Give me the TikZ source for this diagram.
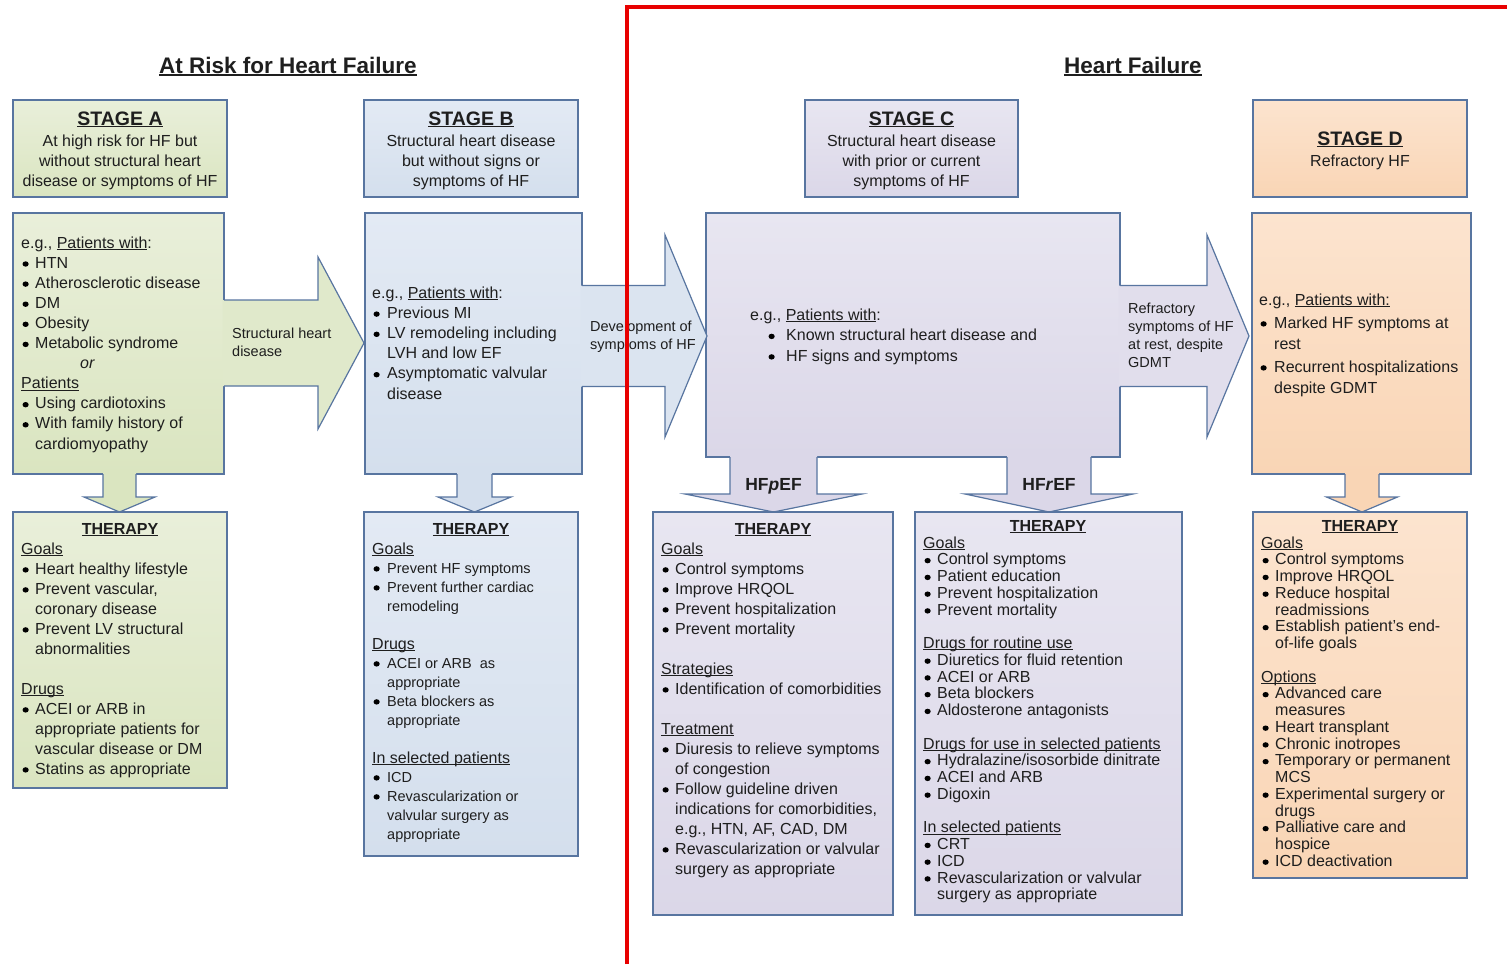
\documentclass[tikz,border=0pt]{standalone}
\usepackage{fontspec}
\setmainfont{Liberation Sans}
\usetikzlibrary{calc}

\definecolor{bord}{RGB}{88,117,160}
\definecolor{ink}{RGB}{30,30,30}
\definecolor{gT}{RGB}{233,239,218}
\definecolor{gB}{RGB}{218,229,192}
\definecolor{gM}{RGB}{224,233,203}
\definecolor{bT}{RGB}{227,234,244}
\definecolor{bB}{RGB}{212,223,237}
\definecolor{bM}{RGB}{219,228,240}
\definecolor{lT}{RGB}{232,230,241}
\definecolor{lB}{RGB}{219,215,232}
\definecolor{lM}{RGB}{225,222,236}
\definecolor{pT}{RGB}{252,228,207}
\definecolor{pB}{RGB}{249,213,181}
\definecolor{pM}{RGB}{250,220,192}
\definecolor{divider}{RGB}{232,0,0}

% underline drawn just below the baseline
\newsavebox\ulbox
\newcommand\uline[1]{\sbox\ulbox{#1}\rlap{\rule[-0.12em]{\wd\ulbox}{0.07em}}\usebox\ulbox}
% round bullet dot drawn as a small filled ellipse
\newsavebox\dotbox
\sbox\dotbox{\begin{pgfpicture}\pgfpathellipse{\pgfpointorigin}{\pgfpoint{3.1pt}{0pt}}{\pgfpoint{0pt}{2.7pt}}\pgfusepath{fill}\end{pgfpicture}}
% bullet and hanging indent for list lines
\newcommand\bul[1][14pt]{\makebox[#1][l]{\hspace{1.3pt}\raisebox{1.4pt}{\usebox\dotbox}}}
\newcommand\ind[1][14pt]{\hspace*{#1}}
\newcommand\sm{\fontsize{14.5}{19}\selectfont}
% text blocks whose reference point is the first baseline
\newcommand\lst[1]{\begin{tabular}[t]{@{}l@{}}#1\end{tabular}}
\newcommand\ctr[1]{\begin{tabular}[t]{@{}c@{}}#1\end{tabular}}

% block arrow pointing right: fill, x0, x1 (head base), x2 (tip), y centre, shaft half, head half
\newcommand\rarr[7]{%
  \fill[#1] (#2-1.5,#5-#6) -- (#3,#5-#6) -- (#3,#5-#7) -- (#4,#5) -- (#3,#5+#7) -- (#3,#5+#6) -- (#2-1.5,#5+#6) -- cycle;
  \draw[arrline] (#2,#5-#6) -- (#3,#5-#6) -- (#3,#5-#7) -- (#4,#5) -- (#3,#5+#7) -- (#3,#5+#6) -- (#2,#5+#6);}
% block arrow pointing down: fill, y0, y1 (head base), y2 (tip), x centre, shaft half, head half
\newcommand\darr[7]{%
  \fill[#1] (#5-#6,#2-1.5) -- (#5-#6,#3) -- (#5-#7,#3) -- (#5,#4) -- (#5+#7,#3) -- (#5+#6,#3) -- (#5+#6,#2-1.5) -- cycle;
  \draw[arrline] (#5-#6,#2) -- (#5-#6,#3) -- (#5-#7,#3) -- (#5,#4) -- (#5+#7,#3) -- (#5+#6,#3) -- (#5+#6,#2);}

\begin{document}
\begin{tikzpicture}[x=1pt,y=-1pt,
  box/.style={draw=bord, line width=1.2pt, anchor=north west, inner sep=0pt, outer sep=0pt},
  fillA/.style={top color=gT, bottom color=gB},
  fillB/.style={top color=bT, bottom color=bB},
  fillC/.style={top color=lT, bottom color=lB},
  fillD/.style={top color=pT, bottom color=pB},
  arrline/.style={draw=bord, line width=1.2pt, line join=miter},
  ttl/.style={anchor=base, inner sep=0pt, text=ink, font=\fontsize{22.5}{26}\selectfont\bfseries},
  stg/.style={anchor=base, inner sep=0pt, text=ink, font=\fontsize{19.5}{22}\selectfont\bfseries},
  thr/.style={anchor=base, inner sep=0pt, text=ink, font=\fontsize{16}{20}\selectfont\bfseries},
  desc/.style={anchor=base, inner sep=0pt, text=ink, font=\fontsize{16}{20}\selectfont},
  txt/.style={anchor=base west, inner sep=0pt, text=ink, font=\fontsize{16}{20}\selectfont},
  lbl/.style={anchor=base west, inner sep=0pt, text=ink, font=\fontsize{14.5}{18}\selectfont},
  hfl/.style={anchor=base, inner sep=0pt, text=ink, font=\fontsize{17.5}{20}\selectfont\bfseries}]

\fill[white] (0,0) rectangle (1507,964);
\useasboundingbox (0,0) rectangle (1507,964);

% section titles
\node[ttl] (ttlRisk) at (288,73) {\uline{At Risk for Heart Failure}};
\node[ttl] (ttlHF) at (1133,73) {\uline{Heart Failure}};

% stage headers
\node[box,fillA,minimum width=214,minimum height=97] (hdrA) at (13,100) {};
\node[box,fillB,minimum width=214,minimum height=97] (hdrB) at (364,100) {};
\node[box,fillC,minimum width=213,minimum height=97] (hdrC) at (805,100) {};
\node[box,fillD,minimum width=214,minimum height=97] (hdrD) at (1253,100) {};

\node[stg] (stA) at (120,125) {\uline{STAGE A}};
\node[desc] (dsA) at (120,146) {\ctr{At high risk for HF but\\without structural heart\\disease or symptoms of HF}};
\node[stg] (stB) at (471,125) {\uline{STAGE B}};
\node[desc] (dsB) at (471,146) {\ctr{Structural heart disease\\but without signs or\\symptoms of HF}};
\node[stg] (stC) at (911.5,125) {\uline{STAGE C}};
\node[desc] (dsC) at (911.5,146) {\ctr{Structural heart disease\\with prior or current\\symptoms of HF}};
\node[stg] (stD) at (1360,145) {\uline{STAGE D}};
\node[desc] (dsD) at (1360,166) {Refractory HF};

% stage bodies
\node[box,fillA,minimum width=211,minimum height=261] (bodyA) at (13,213) {};
\node[box,fillB,minimum width=217,minimum height=261] (bodyB) at (365,213) {};
\node[box,fillC,minimum width=414,minimum height=244] (bodyC) at (706,213) {};
\node[box,fillD,minimum width=219,minimum height=261] (bodyD) at (1252,213) {};

% progression arrows
\rarr{gM}{224}{318}{364}{343}{43}{86}
\rarr{bM}{582}{665}{707}{336}{50.5}{101}
\rarr{lM}{1120}{1207}{1249}{336}{50.5}{101}

% arrows down to therapy
\darr{gB}{474}{497}{512}{119.5}{16.5}{35.5}
\darr{bB}{474}{497}{512}{474.5}{17.5}{36.5}
\darr{lB}{457}{494}{512}{773.5}{43.5}{88.5}
\darr{lB}{457}{494}{512}{1049}{42}{84}
\darr{pB}{474}{497}{512}{1362}{17}{35.5}

\node[hfl] (pef) at (773.5,490) {HF\textit{p}EF};
\node[hfl] (ref) at (1049,490) {HF\textit{r}EF};

% arrow labels
\node[lbl] (lblAB) at (232,338) {\lst{Structural heart\\disease}};
\node[lbl] (lblBC) at (590,331) {\lst{Development of\\symptoms of HF}};
\node[lbl] (lblCD) at (1128,313) {\lst{Refractory\\symptoms of HF\\at rest, despite\\GDMT}};

% body texts
\node[txt,font=\fontsize{16}{20.1}\selectfont] (txA) at (21,248) {\lst{e.g., \uline{Patients with}:\\
\bul HTN\\
\bul Atherosclerotic disease\\
\bul DM\\
\bul Obesity\\
\bul Metabolic syndrome\\
\hspace*{59pt}\textit{or}\\
\uline{Patients}\\
\bul Using cardiotoxins\\
\bul With family history of\\
\ind cardiomyopathy}};

\node[txt,font=\fontsize{16}{20.2}\selectfont] (txB) at (372,298) {\lst{e.g., \uline{Patients with}:\\
\bul[15pt]Previous MI\\
\bul[15pt]LV remodeling including\\
\ind[15pt]LVH and low EF\\
\bul[15pt]Asymptomatic valvular\\
\ind[15pt]disease}};

\node[txt,font=\fontsize{16}{20.5}\selectfont] (txC) at (750,320) {\lst{e.g., \uline{Patients with}:\\
\hspace*{17pt}\bul[19pt]Known structural heart disease and\\
\hspace*{17pt}\bul[19pt]HF signs and symptoms}};

\node[txt,font=\fontsize{16}{21}\selectfont] (txD) at (1259,305) {\lst{e.g., \uline{Patients with:}\\[2pt]
\bul[15pt]Marked HF symptoms at\\
\ind[15pt]rest\\[2pt]
\bul[15pt]Recurrent hospitalizations\\
\ind[15pt]despite GDMT}};

% therapy boxes
\node[box,fillA,minimum width=214,minimum height=276] (thA) at (13,512) {};
\node[box,fillB,minimum width=214,minimum height=344] (thB) at (364,512) {};
\node[box,fillC,minimum width=240,minimum height=403] (thP) at (653,512) {};
\node[box,fillC,minimum width=267,minimum height=403] (thR) at (915,512) {};
\node[box,fillD,minimum width=214,minimum height=366] (thD) at (1253,512) {};

\node[thr] (hA) at (120,534) {\uline{THERAPY}};
\node[thr] (hB) at (471,534) {\uline{THERAPY}};
\node[thr] (hP) at (773,534) {\uline{THERAPY}};
\node[thr] (hR) at (1048,531) {\uline{THERAPY}};
\node[thr] (hD) at (1360,531) {\uline{THERAPY}};

\node[txt] (ttA) at (21,554) {\lst{\uline{Goals}\\
\bul Heart healthy lifestyle\\
\bul Prevent vascular,\\
\ind coronary disease\\
\bul Prevent LV structural\\
\ind abnormalities\\[20pt]
\uline{Drugs}\\
\bul ACEI or ARB in\\
\ind appropriate patients for\\
\ind vascular disease or DM\\
\bul Statins as appropriate}};

\node[txt,font=\fontsize{16}{19}\selectfont] (ttB) at (372,554) {\lst{\uline{Goals}\\
\bul[15pt]{\sm Prevent HF symptoms}\\
\bul[15pt]{\sm Prevent further cardiac}\\
\ind[15pt]{\sm remodeling}\\[19pt]
\uline{Drugs}\\
\bul[15pt]{\sm ACEI or ARB\ \ as}\\
\ind[15pt]{\sm appropriate}\\
\bul[15pt]{\sm Beta blockers as}\\
\ind[15pt]{\sm appropriate}\\[19pt]
\uline{In selected patients}\\
\bul[15pt]{\sm ICD}\\
\bul[15pt]{\sm Revascularization or}\\
\ind[15pt]{\sm valvular surgery as}\\
\ind[15pt]{\sm appropriate}}};

\node[txt] (ttP) at (661,554) {\lst{\uline{Goals}\\
\bul Control symptoms\\
\bul Improve HRQOL\\
\bul Prevent hospitalization\\
\bul Prevent mortality\\[20pt]
\uline{Strategies}\\
\bul Identification of comorbidities\\[20pt]
\uline{Treatment}\\
\bul Diuresis to relieve symptoms\\
\ind of congestion\\
\bul Follow guideline driven\\
\ind indications for comorbidities,\\
\ind e.g., HTN, AF, CAD, DM\\
\bul Revascularization or valvular\\
\ind surgery as appropriate}};

\node[txt,font=\fontsize{16}{16.75}\selectfont] (ttR) at (923,548) {\lst{\uline{Goals}\\
\bul Control symptoms\\
\bul Patient education\\
\bul Prevent hospitalization\\
\bul Prevent mortality\\[16.75pt]
\uline{Drugs for routine use}\\
\bul Diuretics for fluid retention\\
\bul ACEI or ARB\\
\bul Beta blockers\\
\bul Aldosterone antagonists\\[16.75pt]
\uline{Drugs for use in selected patients}\\
\bul Hydralazine/isosorbide dinitrate\\
\bul ACEI and ARB\\
\bul Digoxin\\[16.75pt]
\uline{In selected patients}\\
\bul CRT\\
\bul ICD\\
\bul Revascularization or valvular\\
\ind surgery as appropriate}};

\node[txt,font=\fontsize{16}{16.75}\selectfont] (ttD) at (1261,548) {\lst{\uline{Goals}\\
\bul Control symptoms\\
\bul Improve HRQOL\\
\bul Reduce hospital\\
\ind readmissions\\
\bul Establish patient's end-\\
\ind of-life goals\\[16.75pt]
\uline{Options}\\
\bul Advanced care\\
\ind measures\\
\bul Heart transplant\\
\bul Chronic inotropes\\
\bul Temporary or permanent\\
\ind MCS\\
\bul Experimental surgery or\\
\ind drugs\\
\bul Palliative care and\\
\ind hospice\\
\bul ICD deactivation}};

% divider between the two sections
\coordinate (divBot) at (627,964);
\coordinate (divCorner) at (627,7);
\coordinate (divEnd) at (1507,7);
\draw[divider, line width=4pt] (divBot) -- (divCorner) -- (divEnd);

\end{tikzpicture}
\end{document}
